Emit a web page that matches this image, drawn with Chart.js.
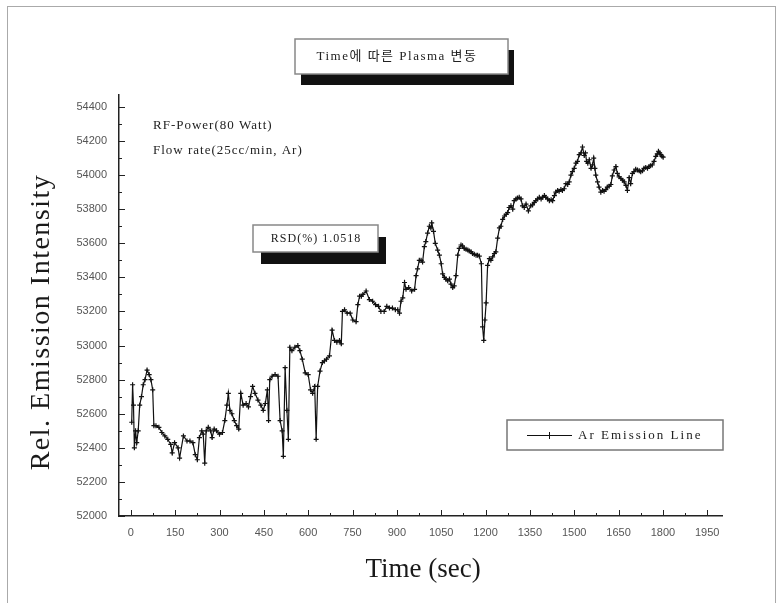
<!DOCTYPE html>
<html><head>
<meta charset="utf-8">
<title>Time에 따른 Plasma 변동</title>
<script src="https://cdn.jsdelivr.net/npm/chart.js@4"></script>
<style>html,body{margin:0;background:#fff}</style>
</head><body>
<canvas id="chart" width="782" height="603"></canvas>
<script>
// Ar emission intensity over time (sec)
const times = [
  3, 6, 9, 12, 16, 20, 25, 30, 36, 42, 48, 55, 62, 68, 74, 78, 85, 95, 105, 115,
  125, 135, 140, 148, 160, 165, 178, 190, 200, 210, 218, 225, 232, 240, 245, 250, 255, 262, 270, 275,
  282, 290, 300, 310, 318, 325, 330, 335, 342, 350, 358, 365, 372, 380, 390, 398, 405, 412, 420, 430,
  440, 448, 455, 462, 466, 470, 478, 488, 498, 505, 512, 516, 522, 528, 533, 538, 545, 555, 565, 572,
  580, 590, 600, 608, 615, 622, 627, 632, 640, 648, 655, 662,
  672, 681, 689, 697, 706, 712, 716, 723, 732, 742, 751, 762, 768, 774, 780, 785, 796, 807, 818, 828,
  838, 846, 857, 866, 875, 885, 895, 903, 909, 914, 920, 926, 931, 940, 950, 960, 965, 970, 976, 982,
  987, 993, 998, 1004, 1010, 1015, 1018, 1024, 1030, 1038, 1044, 1050, 1055, 1061, 1066, 1072, 1078, 1083, 1089, 1094,
  1100, 1106, 1111, 1117, 1122, 1128, 1134, 1140, 1145, 1151, 1156, 1162, 1168, 1173, 1179, 1186, 1190, 1194, 1198, 1202,
  1207, 1213, 1218, 1224, 1230, 1235, 1241,
  1247, 1252, 1258, 1264, 1270, 1275, 1280, 1286, 1292, 1297, 1303, 1308, 1314, 1320, 1325, 1331, 1337, 1345, 1353, 1359,
  1365, 1370, 1376, 1382, 1388, 1393, 1399, 1404, 1410, 1416, 1422, 1427, 1433, 1438, 1444, 1449, 1455, 1460, 1466, 1472,
  1478, 1483, 1489, 1494, 1500, 1506, 1511, 1517, 1523, 1528, 1534, 1538, 1542, 1546, 1551, 1557, 1562, 1566, 1570, 1573,
  1579, 1584, 1590, 1596, 1601, 1607, 1612, 1618, 1624, 1629, 1635, 1641, 1646, 1652, 1658, 1664, 1669, 1675, 1680, 1686,
  1691, 1697, 1702, 1708, 1714, 1720, 1725, 1731, 1736, 1742, 1748, 1753, 1758, 1764, 1770, 1776, 1781, 1785, 1789, 1793,
  1797, 1801
];

const intensity = [
  52550, 52770, 52650, 52400, 52500, 52430, 52500, 52650, 52700, 52770, 52800, 52856, 52830, 52800, 52740, 52530, 52530, 52520, 52490, 52470,
  52450, 52420, 52370, 52430, 52400, 52340, 52470, 52440, 52440, 52430, 52360, 52330, 52460, 52500, 52480, 52310, 52500, 52520, 52500, 52460,
  52510, 52500, 52480, 52490, 52560, 52650, 52720, 52620, 52600, 52560, 52530, 52510, 52720, 52650, 52660, 52640, 52700, 52760, 52720, 52680,
  52650, 52620, 52660, 52740, 52560, 52800, 52820, 52830, 52820, 52560, 52500, 52350, 52870, 52620, 52450, 52990, 52970, 52990, 53000, 52970,
  52920, 52840, 52830, 52740, 52720, 52760, 52450, 52760, 52850, 52900, 52910, 52920,
  52940, 53090, 53030, 53020, 53030, 53010, 53200, 53210, 53190, 53190, 53150, 53140, 53240, 53290, 53290, 53300, 53320, 53270, 53260, 53240,
  53230, 53200, 53200, 53230, 53220, 53220, 53210, 53210, 53190, 53260, 53280, 53370, 53330, 53340, 53320, 53330, 53410, 53450, 53500, 53500,
  53490, 53580, 53610, 53660, 53700, 53690, 53720, 53670, 53600, 53560, 53530, 53480, 53420, 53400, 53390, 53380, 53390, 53360, 53340, 53350,
  53410, 53530, 53570, 53590, 53585, 53570, 53565, 53560, 53555, 53550, 53540, 53535, 53530, 53530, 53525, 53480, 53110, 53030, 53150, 53250,
  53470, 53510, 53500, 53520, 53540, 53550, 53630,
  53690, 53700, 53740, 53760, 53770, 53780, 53810, 53820, 53800, 53850, 53860, 53865, 53870, 53860, 53820, 53810, 53830, 53790, 53820, 53825,
  53840, 53850, 53860, 53870, 53860, 53870, 53880, 53870, 53860, 53850, 53855, 53850, 53880, 53900, 53910, 53905, 53915, 53910, 53920, 53950,
  53945, 53960, 54000, 54020, 54040, 54070, 54080, 54120, 54130, 54165, 54115, 54130, 54080, 54070, 54090, 54040, 54060, 54100, 54040, 54000,
  53960, 53930, 53900, 53910, 53905, 53915, 53930, 53935, 53945, 53995, 54030, 54050, 54010, 53990, 53980, 53970, 53960, 53940, 53910, 53985,
  53950, 54010, 54020, 54035, 54030, 54025, 54020, 54025, 54040, 54045, 54040, 54050, 54055, 54060, 54080, 54110, 54125, 54140, 54130, 54120,
  54110, 54105
];

// labelled ticks; unlabelled minor ticks sit halfway between them
const xTickLabels = [0, 150, 300, 450, 600, 750, 900, 1050, 1200, 1350, 1500, 1650, 1800, 1950];
const yTickLabels = [52000, 52200, 52400, 52600, 52800, 53000, 53200, 53400, 53600, 53800, 54000, 54200, 54400];

const seriesName = 'Ar Emission Line';
const chartTitle = 'Time에 따른 Plasma 변동';
const infoLines = ['RF-Power(80 Watt)', 'Flow rate(25cc/min, Ar)'];
const rsdText = 'RSD(%) 1.0518';

const SERIF = '"Liberation Serif", "DejaVu Serif", "Noto Sans CJK KR", serif';
const SANS = '"Liberation Sans", Arial, sans-serif';

function withMinor(major) {
  const out = [];
  major.forEach((v, i) => {
    out.push(v);
    if (i < major.length - 1) out.push((v + major[i + 1]) / 2);
  });
  return out;
}

const xTicks = withMinor(xTickLabels);
const yTicks = withMinor(yTickLabels);

function shadowBox(ctx, x, y, w, h, dx, dy) {
  ctx.fillStyle = '#111';
  ctx.fillRect(x + dx, y + dy, w, h);
  ctx.fillStyle = '#fff';
  ctx.fillRect(x, y, w, h);
  ctx.strokeStyle = '#888';
  ctx.lineWidth = 1.5;
  ctx.strokeRect(x, y, w, h);
}

// inward tick marks, axis titles, boxed notes and the legend
const decorations = {
  id: 'decorations',
  afterDraw(chart) {
    const { ctx, scales: { x, y } } = chart;
    const area = chart.chartArea;
    ctx.save();

    // outer frame
    ctx.strokeStyle = '#aaa';
    ctx.lineWidth = 1;
    ctx.strokeRect(7.5, 6.5, 768, 620);

    // ticks pointing into the plot
    ctx.strokeStyle = '#222';
    ctx.lineWidth = 1;
    ctx.beginPath();
    xTicks.forEach(v => {
      const px = Math.round(x.getPixelForValue(v)) + 0.5;
      const len = xTickLabels.includes(v) ? 6 : 3;
      ctx.moveTo(px, area.bottom);
      ctx.lineTo(px, area.bottom - len);
    });
    yTicks.forEach(v => {
      const py = Math.round(y.getPixelForValue(v)) + 0.5;
      const len = yTickLabels.includes(v) ? 6 : 3;
      ctx.moveTo(area.left, py);
      ctx.lineTo(area.left + len, py);
    });
    ctx.stroke();

    // axis titles
    ctx.fillStyle = '#1a1a1a';
    ctx.textAlign = 'center';
    ctx.textBaseline = 'middle';
    ctx.font = `27px ${SERIF}`;
    ctx.fillText('Time (sec)', 423, 570);
    ctx.save();
    ctx.translate(42, 322);
    ctx.rotate(-Math.PI / 2);
    ctx.font = `28px ${SERIF}`;
    ctx.letterSpacing = '1.5px';
    ctx.fillText('Rel. Emission Intensity', 0, 0);
    ctx.restore();

    // title box
    shadowBox(ctx, 295, 39, 213, 35, 6, 11);
    ctx.fillStyle = '#222';
    ctx.font = `13px ${SERIF}`;
    ctx.letterSpacing = '1.5px';
    ctx.fillText(chartTitle, 397, 57);

    // run conditions
    ctx.textAlign = 'left';
    ctx.font = `13px ${SERIF}`;
    ctx.letterSpacing = '1px';
    infoLines.forEach((t, i) => ctx.fillText(t, 153, 126 + i * 25));

    // RSD box
    shadowBox(ctx, 253, 225, 125, 27, 8, 12);
    ctx.fillStyle = '#222';
    ctx.textAlign = 'center';
    ctx.font = `12px ${SERIF}`;
    ctx.letterSpacing = '1px';
    ctx.fillText(rsdText, 316, 239);

    // legend
    const ds = chart.data.datasets[0];
    ctx.letterSpacing = '0px';
    ctx.fillStyle = '#fff';
    ctx.fillRect(507, 420, 216, 30);
    ctx.strokeStyle = '#777';
    ctx.lineWidth = 1.5;
    ctx.strokeRect(507, 420, 216, 30);
    ctx.strokeStyle = ds.borderColor;
    ctx.lineWidth = 1;
    ctx.beginPath();
    ctx.moveTo(527, 435.5);
    ctx.lineTo(572, 435.5);
    ctx.moveTo(549.5, 432);
    ctx.lineTo(549.5, 439);
    ctx.stroke();
    ctx.fillStyle = '#222';
    ctx.textAlign = 'left';
    ctx.font = `13px ${SERIF}`;
    ctx.letterSpacing = '2px';
    ctx.fillText(ds.label, 578, 436);

    ctx.restore();
  }
};

new Chart(document.getElementById('chart'), {
  type: 'line',
  data: {
    datasets: [{
      label: seriesName,
      data: times.map((t, i) => ({ x: t, y: intensity[i] })),
      borderColor: '#111',
      borderWidth: 1.2,
      pointStyle: 'cross',
      pointRadius: 2.5,
      pointBorderWidth: 1.2,
      pointBorderColor: '#111',
      tension: 0
    }]
  },
  options: {
    responsive: false,
    animation: false,
    devicePixelRatio: 1,
    layout: { padding: { top: 95, right: 60, left: 0, bottom: 0 } },
    plugins: { legend: { display: false }, tooltip: { enabled: false } },
    scales: {
      x: {
        type: 'linear',
        min: -40,
        max: 2000,
        afterBuildTicks: s => { s.ticks = xTicks.map(v => ({ value: v })); },
        afterFit: s => { s.height = 87; },
        grid: { display: false, drawTicks: false },
        border: { display: true, color: '#222', width: 1.5 },
        ticks: {
          autoSkip: false,
          maxRotation: 0,
          padding: 10,
          color: '#555',
          font: { family: SANS, size: 11 },
          callback: v => (xTickLabels.includes(v) ? String(v) : '')
        }
      },
      y: {
        type: 'linear',
        min: 52000,
        max: 54470,
        afterBuildTicks: s => { s.ticks = yTicks.map(v => ({ value: v })); },
        afterFit: s => { s.width = 119; },
        grid: { display: false, drawTicks: false },
        border: { display: true, color: '#222', width: 1.5 },
        ticks: {
          autoSkip: false,
          padding: 12,
          color: '#555',
          font: { family: SANS, size: 11 },
          callback: v => (yTickLabels.includes(v) ? String(v) : '')
        }
      }
    }
  },
  plugins: [decorations]
});
</script>
</body></html>
